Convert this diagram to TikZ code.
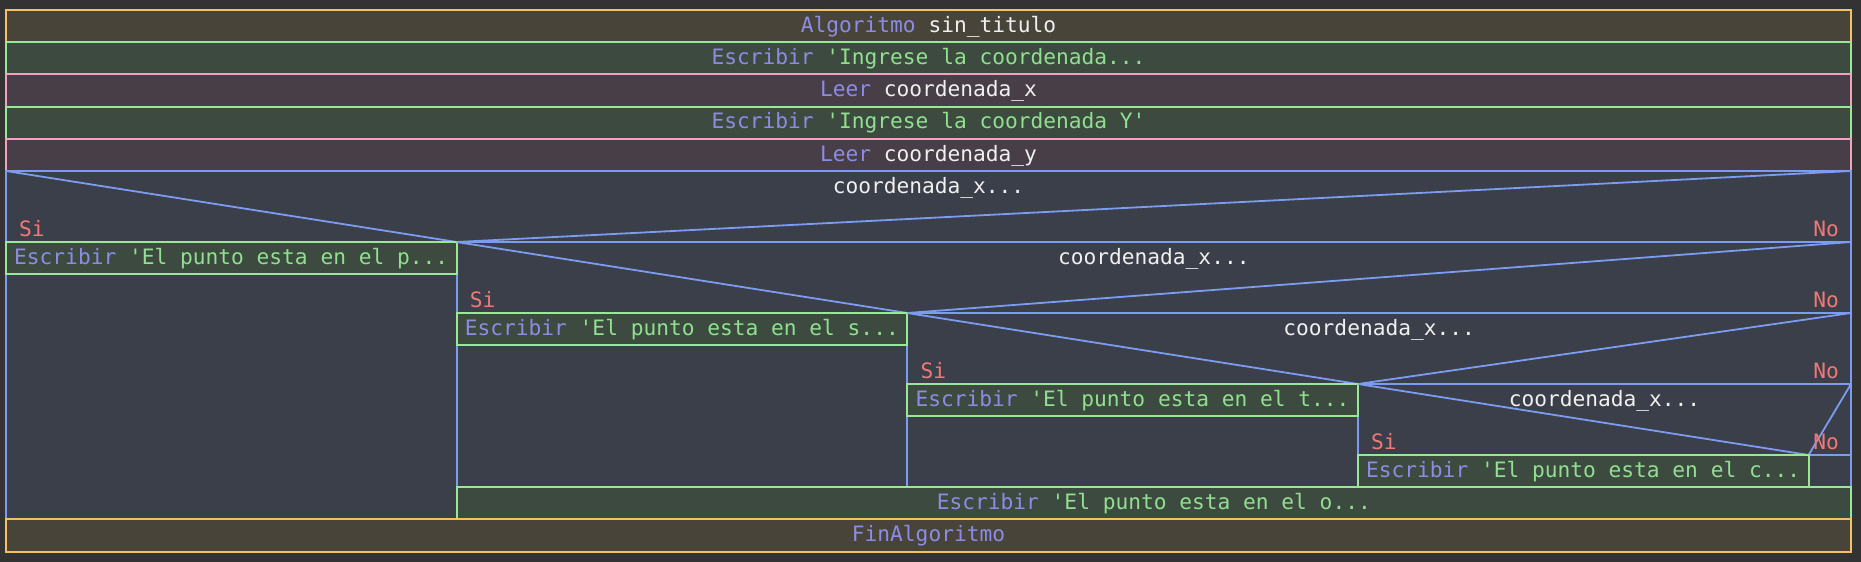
\documentclass[tikz,border=0pt]{standalone}
\usepackage{fontspec}
\setmonofont{DejaVu Sans Mono}
\usepackage{tikz}
\definecolor{pageColor}{HTML}{333333}
\definecolor{algoFill}{HTML}{48443A}
\definecolor{algoLine}{HTML}{F5C062}
\definecolor{writeFill}{HTML}{3D4A3F}
\definecolor{writeLine}{HTML}{98E898}
\definecolor{readFill}{HTML}{483E47}
\definecolor{readLine}{HTML}{F2A2BC}
\definecolor{ifFill}{HTML}{3B3F4A}
\definecolor{ifLineColor}{HTML}{7C9CF2}
\definecolor{keyColor}{HTML}{8C8CE6}
\definecolor{strColor}{HTML}{90E090}
\definecolor{varColor}{HTML}{F0F0F0}
\definecolor{branchColor}{HTML}{F07878}
\tikzstyle{diagram} = [x = 1pt, y = -1pt]
\tikzstyle{algoStyle} = [fill=algoFill, draw=algoLine, line width=2pt]
\tikzstyle{writeStyle} = [fill=writeFill, draw=writeLine, line width=2pt]
\tikzstyle{readStyle} = [fill=readFill, draw=readLine, line width=2pt]
\tikzstyle{ifStyle} = [fill=ifFill, draw=ifLineColor, line width=2pt]
\tikzstyle{ifLine} = [draw=ifLineColor, line width=1.8pt]
\tikzstyle{codeText} = [font=\ttfamily\fontsize{21.2}{24}\selectfont, inner sep=0, anchor=base, text=varColor]
\tikzstyle{branchText} = [codeText, text=branchColor]
\newcommand{\rowH}{32.2}
\newcommand{\headH}{71}
\newcommand{\colW}{450.65}
\newcommand{\leftEdge}{6}
\newcommand{\rightEdge}{1851}
\newcommand{\ifTop}{171}
\newcommand{\kw}[1]{\textcolor{keyColor}{#1}}
\newcommand{\strText}[1]{\textcolor{strColor}{#1}}
\newcommand{\fullRow}[4]{\filldraw [#2] (\leftEdge, #1) rectangle (\rightEdge, #1 + \rowH); \node [codeText] (#3) at ({(\leftEdge + \rightEdge)/2}, #1 + 22.3) {#4};}
\newcommand{\ifHeader}[3]{
  \draw [ifLine] (#1, #2) -- (#1 + \colW, #2 + \headH) -- (\rightEdge, #2);
  \draw [ifLine] (#1, #2 + \headH) -- (\rightEdge, #2 + \headH);
  \node [codeText] (#3) at ({(#1 + \rightEdge)/2}, #2 + 22.3) {coordenada\_x...};
  \node [branchText, anchor=base west] (#3-si) at (#1 + 13, #2 + \headH - 6) {Si};
  \node [branchText, anchor=base east] (#3-no) at (\rightEdge - 12, #2 + \headH - 6) {No};
}
\newcommand{\branchBox}[3]{
  \filldraw [writeStyle] (#1, #2) rectangle + (\colW, \rowH);
  \node [codeText, anchor=base west] (write#3) at (#1 + 8, #2 + 22.3) {\kw{Escribir} \strText{\textquotesingle El punto esta en el #3...}};
}

\begin{document}
\begin{tikzpicture}[diagram]
\useasboundingbox (0, 0) rectangle (1861, 562);
\fill [pageColor] (0, 0) rectangle (1861, 562);
\fullRow{10}{algoStyle}{algoritmo}{\kw{Algoritmo} sin\_titulo}
\fullRow{42.2}{writeStyle}{ingreseX}{\kw{Escribir} \strText{\textquotesingle Ingrese la coordenada...}}
\fullRow{74.4}{readStyle}{leerX}{\kw{Leer} coordenada\_x}
\fullRow{106.6}{writeStyle}{ingreseY}{\kw{Escribir} \strText{\textquotesingle Ingrese la coordenada Y\textquotesingle}}
\fullRow{138.8}{readStyle}{leerY}{\kw{Leer} coordenada\_y}
% nested decisions
\filldraw [ifStyle] (\leftEdge, \ifTop) rectangle (\rightEdge, 519.4);
\foreach \level/\endY in {1/519.4, 2/487.2, 3/487.2} {
  \draw [ifLine] (\leftEdge + \level * \colW, \ifTop + \level * \headH) -- (\leftEdge + \level * \colW, \endY);
}
\draw [ifLine] (\leftEdge + 4 * \colW, 487.2) -- (\rightEdge, 487.2);
\foreach \level/\letter in {0/p, 1/s, 2/t, 3/c} {
  \pgfmathsetmacro{\colX}{\leftEdge + \level * \colW}
  \pgfmathsetmacro{\topY}{\ifTop + \level * \headH}
  \ifHeader{\colX}{\topY}{cond\level}
  \branchBox{\colX}{\topY + \headH}{\letter}
}
\filldraw [writeStyle] (\leftEdge + \colW, 487.2) rectangle (\rightEdge, 519.4);
\node [codeText] (writeo) at ({(\leftEdge + \colW + \rightEdge)/2}, 487.2 + 22.3) {\kw{Escribir} \strText{\textquotesingle El punto esta en el o...}};
\fullRow{519.4}{algoStyle}{finAlgoritmo}{\kw{FinAlgoritmo}}
\end{tikzpicture}
\end{document}
